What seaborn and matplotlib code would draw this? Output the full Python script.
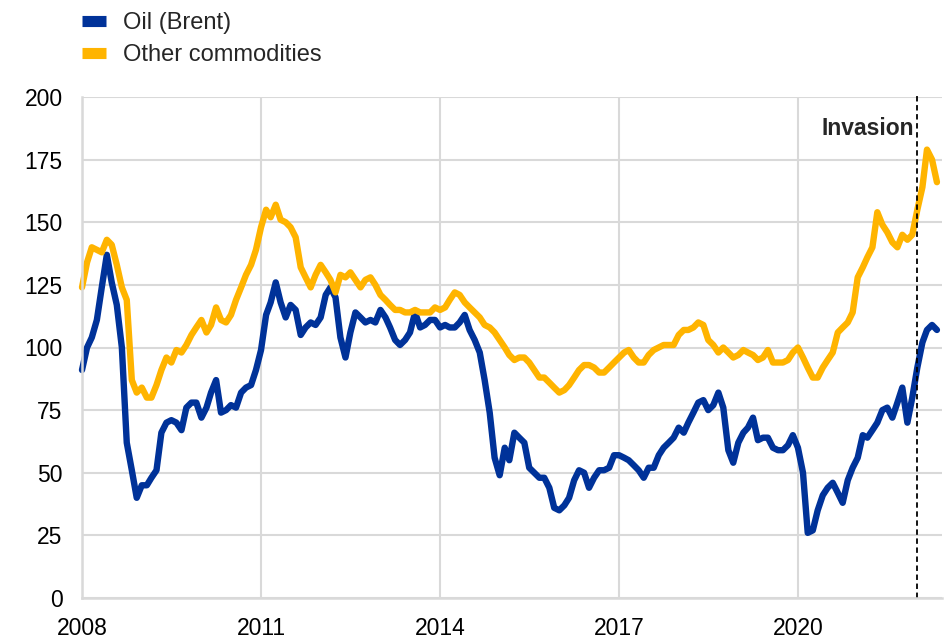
import numpy as np
import pandas as pd
import matplotlib
matplotlib.use("Agg")
import matplotlib.pyplot as plt
import seaborn as sns

# monthly, Jan 2008 - May 2022
oil = [91, 100, 104, 111, 124, 137, 126, 117, 100, 62, 51, 40,
       45, 45, 48, 51, 66, 70, 71, 70, 67, 76, 78, 78,
       72, 76, 82, 87, 74, 75, 77, 76, 82, 84, 85, 91,
       99, 113, 118, 126, 118, 112, 117, 115, 105, 108, 110, 109,
       112, 121, 124, 120, 104, 96, 106, 114, 112, 110, 111, 110,
       115, 112, 108, 103, 101, 103, 106, 114, 108, 109, 111, 111,
       108, 109, 108, 108, 110, 113, 107, 103, 98, 87, 74, 56,
       49, 60, 55, 66, 64, 62, 52, 50, 48, 48, 44, 36,
       35, 37, 40, 47, 51, 50, 44, 48, 51, 51, 52, 57,
       57, 56, 55, 53, 51, 48, 52, 52, 57, 60, 62, 64,
       68, 66, 70, 74, 78, 79, 75, 77, 82, 76, 59, 54,
       62, 66, 68, 72, 63, 64, 64, 60, 59, 59, 61, 65,
       60, 50, 26, 27, 35, 41, 44, 46, 42, 38, 47, 52,
       56, 65, 64, 67, 70, 75, 76, 72, 78, 84, 70, 80,
       92, 102, 107, 109, 107]

other = [124, 134, 140, 139, 138, 143, 141, 133, 124, 119, 87, 82,
         84, 80, 80, 85, 91, 96, 94, 99, 98, 101, 105, 108,
         111, 106, 109, 116, 111, 110, 113, 119, 124, 129, 133, 139,
         148, 155, 152, 157, 151, 150, 148, 144, 132, 128, 124, 129,
         133, 130, 127, 122, 129, 128, 130, 127, 124, 127, 128, 125,
         121, 119, 117, 115, 115, 114, 114, 115, 114, 114, 114, 116,
         115, 116, 119, 122, 121, 118, 116, 114, 112, 109, 108, 106,
         103, 100, 97, 95, 96, 96, 94, 91, 88, 88, 86, 84,
         82, 83, 85, 88, 91, 93, 93, 92, 90, 90, 92, 94,
         96, 98, 99, 96, 94, 94, 97, 99, 100, 101, 101, 101,
         105, 107, 107, 108, 110, 109, 103, 101, 98, 100, 98, 96,
         97, 99, 98, 97, 95, 96, 99, 94, 94, 94, 95, 98,
         100, 96, 92, 88, 88, 92, 95, 98, 106, 108, 110, 114,
         128, 132, 136, 140, 154, 149, 146, 142, 140, 145, 143, 145,
         155, 164, 179, 175, 166]

dates = pd.date_range("2008-01-01", periods=len(oil), freq="MS")
names = ["Oil (Brent)", "Other commodities"]
colors = ["#003299", "#FFB400"]

df = pd.DataFrame({"date": np.concatenate([dates, dates]),
                   "value": oil + other,
                   "series": [names[0]] * len(oil) + [names[1]] * len(other)})

sns.set_style("white")
plt.rcParams["font.family"] = ["Liberation Sans", "DejaVu Sans"]

fig = plt.figure(figsize=(9.44, 6.44), dpi=100)
ax = fig.add_axes([82 / 944, 1 - 598 / 644, (942 - 82) / 944, (598 - 97) / 644])

sns.lineplot(data=df, x="date", y="value", hue="series", palette=colors,
             linewidth=4.6, solid_joinstyle="round", solid_capstyle="round",
             clip_on=False, ax=ax)

ax.set_xlim(pd.Timestamp("2008-01-01"), pd.Timestamp("2022-06-01"))
ax.set_ylim(0, 200)
ax.set_yticks(range(0, 201, 25))
years = [2008, 2011, 2014, 2017, 2020]
ax.set_xticks([pd.Timestamp(f"{y}-01-01") for y in years])
ax.set_xticklabels([str(y) for y in years])
ax.set_xlabel("")
ax.set_ylabel("")
ax.tick_params(axis="both", length=0, labelsize=16.5, colors="black")
ax.tick_params(axis="y", pad=14)
ax.tick_params(axis="x", pad=14)

ax.grid(True, color="#d9d9d9", linewidth=1.5)
ax.set_axisbelow(True)
for s in ["top", "right"]:
    ax.spines[s].set_visible(False)
for s in ["left", "bottom"]:
    ax.spines[s].set_color("#d9d9d9")
    ax.spines[s].set_linewidth(1.8)

# invasion marker
inv = pd.Timestamp("2021-12-28")
ax.plot([inv, inv], [0, 201.5], color="black", linestyle=(0, (3, 2)),
        linewidth=1.3, clip_on=False)
ax.text(pd.Timestamp("2021-12-10"), 187.5, "Invasion", ha="right", va="center",
        fontsize=16.5, fontweight="bold")

handles, labels = ax.get_legend_handles_labels()
leg = ax.legend(handles, labels, loc="upper left", bbox_to_anchor=(82 / 944, 1 - 12 / 644),
                bbox_transform=fig.transFigure, frameon=False, fontsize=17,
                handlelength=1.0, handletextpad=0.72, labelspacing=0.42,
                borderpad=0, borderaxespad=0)
for h in leg.get_lines():
    h.set_linewidth(8)
    h.set_solid_capstyle("butt")

fig.savefig("out.png", dpi=100)
